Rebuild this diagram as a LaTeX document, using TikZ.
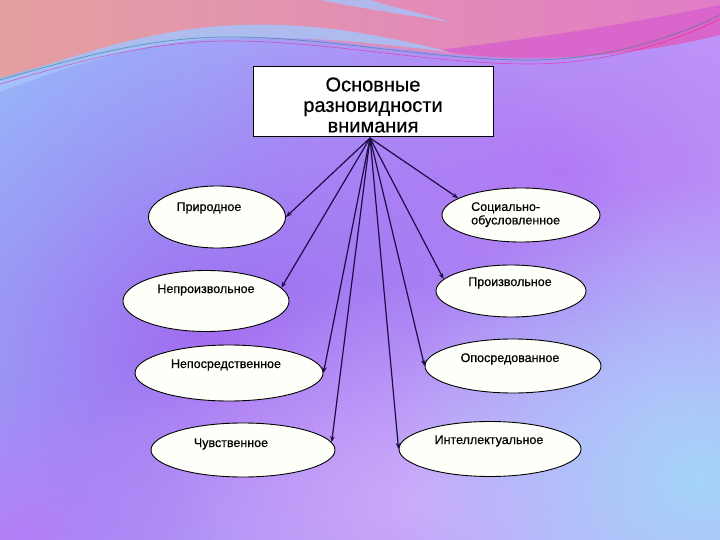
\documentclass[tikz,border=0pt]{standalone}
\usepackage{fontspec}
\setmainfont{Liberation Sans}
\newfontfamily\heavysans[FakeBold=0.6]{Liberation Sans}
\usetikzlibrary{arrows.meta,shapes.geometric,fadings}
\definecolor{bgL}{RGB}{150,188,250}
\definecolor{bgR}{RGB}{195,160,250}
\definecolor{bgPurple}{RGB}{160,105,240}
\definecolor{bgLav}{RGB}{208,168,250}
\definecolor{bgBlueBR}{RGB}{165,212,250}
\definecolor{bgBlueL}{RGB}{150,202,252}
\definecolor{bgRP}{RGB}{180,125,245}
\definecolor{topL}{RGB}{228,160,160}
\definecolor{topM}{RGB}{195,140,205}
\definecolor{topR}{RGB}{225,125,200}
\definecolor{magband}{RGB}{215,95,205}
\definecolor{swoosh}{RGB}{165,195,250}
\definecolor{arrowc}{RGB}{28,12,72}
\definecolor{ellfill}{RGB}{255,255,249}
\tikzfading[name=blob, inner color=transparent!0, outer color=transparent!100]
\tikzset{
  titlebox/.style={draw=black, line width=1pt, fill=white, minimum width=240pt, minimum height=70pt, inner sep=0pt},
  titletext/.style={align=center, inner sep=0pt, font=\heavysans\fontsize{20}{20.5}\selectfont},
  kind/.style={ellipse, draw=black, line width=0.9pt, fill=ellfill, inner sep=0pt},
  kindtext/.style={inner sep=0pt, font=\heavysans\fontsize{12.5}{13.5}\selectfont},
  conn/.style={draw=arrowc, line width=1.2pt, -{Stealth[length=6pt,width=4.5pt]}},
}
\begin{document}
\begin{tikzpicture}[x=1pt,y=-1pt]
\useasboundingbox (0,0) rectangle (720,540);
\begin{scope}
\clip (0,0) rectangle (720,540);
% background
\shade[left color=bgL, right color=bgR] (0,0) rectangle (720,540);
\fill[bgBlueL, path fading=blob] (40,220) ellipse (260 and 260);
\fill[bgRP, path fading=blob] (560,170) ellipse (360 and 260);
\fill[bgPurple, path fading=blob] (220,350) ellipse (440 and 400);
\fill[bgLav, path fading=blob] (420,500) ellipse (360 and 220);
\fill[bgBlueBR, path fading=blob] (700,480) ellipse (320 and 300);
\fill[bgRP, path fading=blob] (20,540) ellipse (200 and 160);
% top band
\shade[left color=topL, middle color=topM, right color=topR]
  (0,0) -- (720,0) -- (720,35)
  .. controls (680,45) and (610,58) .. (530,58)
  .. controls (430,58) and (330,35) .. (230,35)
  .. controls (150,35) and (80,55) .. (0,78) -- cycle;
\fill[magband, opacity=0.8]
  (720,35) .. controls (680,45) and (610,58) .. (530,58)
  .. controls (490,58) and (460,55) .. (440,50)
  .. controls (500,42) and (600,30) .. (720,5) -- cycle;
\fill[swoosh, opacity=0.85]
  (0,80) .. controls (80,55) and (150,28) .. (240,25)
  .. controls (330,22) and (400,40) .. (450,52)
  .. controls (380,44) and (320,36) .. (230,38)
  .. controls (150,40) and (80,62) .. (0,92) -- cycle;
\fill[swoosh, opacity=0.8]
  (320,0) .. controls (360,8) and (400,14) .. (450,22)
  .. controls (410,10) and (380,4) .. (370,0) -- cycle;
\draw[teal!50!gray, opacity=0.6, line width=0.8pt]
  (0,80) .. controls (80,57) and (150,37) .. (230,37)
  .. controls (330,37) and (430,60) .. (530,60)
  .. controls (610,60) and (680,35) .. (720,15);
\draw[red!50!magenta, opacity=0.5, line width=0.6pt]
  (0,84) .. controls (80,61) and (150,41) .. (230,41)
  .. controls (330,41) and (430,64) .. (530,64)
  .. controls (610,64) and (680,39) .. (720,19);
\end{scope}
% title
\node[titlebox] (title) at (373,102) {};
\node[titletext] (titlelabel) at (373,105) {Основные\\разновидности\\внимания};
\coordinate (o) at (370,138);
% ellipses
\node[kind, minimum width=137pt, minimum height=62pt] (e1) at (217,217) {};
\node[kind, minimum width=158pt, minimum height=54pt] (e2) at (521,215) {};
\node[kind, minimum width=166pt, minimum height=61pt] (e3) at (206,301) {};
\node[kind, minimum width=150pt, minimum height=52pt] (e4) at (511,291) {};
\node[kind, minimum width=188pt, minimum height=56pt] (e5) at (229,373) {};
\node[kind, minimum width=176pt, minimum height=54pt] (e6) at (513,366) {};
\node[kind, minimum width=184pt, minimum height=54pt] (e7) at (243,450) {};
\node[kind, minimum width=182pt, minimum height=55pt] (e8) at (490,449) {};
% labels
\node[kindtext, anchor=base] (t1) at (209,211) {Природное};
\node[kindtext, anchor=north west, align=left] (t2) at (471,202) {Социально-\\обусловленное};
\node[kindtext, anchor=base] (t3) at (206,293) {Непроизвольное};
\node[kindtext, anchor=base] (t4) at (510,286) {Произвольное};
\node[kindtext, anchor=base] (t5) at (226,368) {Непосредственное};
\node[kindtext, anchor=base] (t6) at (510,362) {Опосредованное};
\node[kindtext, anchor=base] (t7) at (231,447) {Чувственное};
\node[kindtext, anchor=base] (t8) at (489,444) {Интеллектуальное};
% connectors
\draw[conn] (o) -- (e1.east);
\draw[conn] (o) -- (e2.165);
\draw[conn] (o) -- (e3.10);
\draw[conn] (o) -- (e4.170);
\draw[conn] (o) -- (e5.east);
\draw[conn] (o) -- (e6.west);
\draw[conn] (o) -- (e7.5);
\draw[conn] (o) -- (e8.west);
\end{tikzpicture}
\end{document}
